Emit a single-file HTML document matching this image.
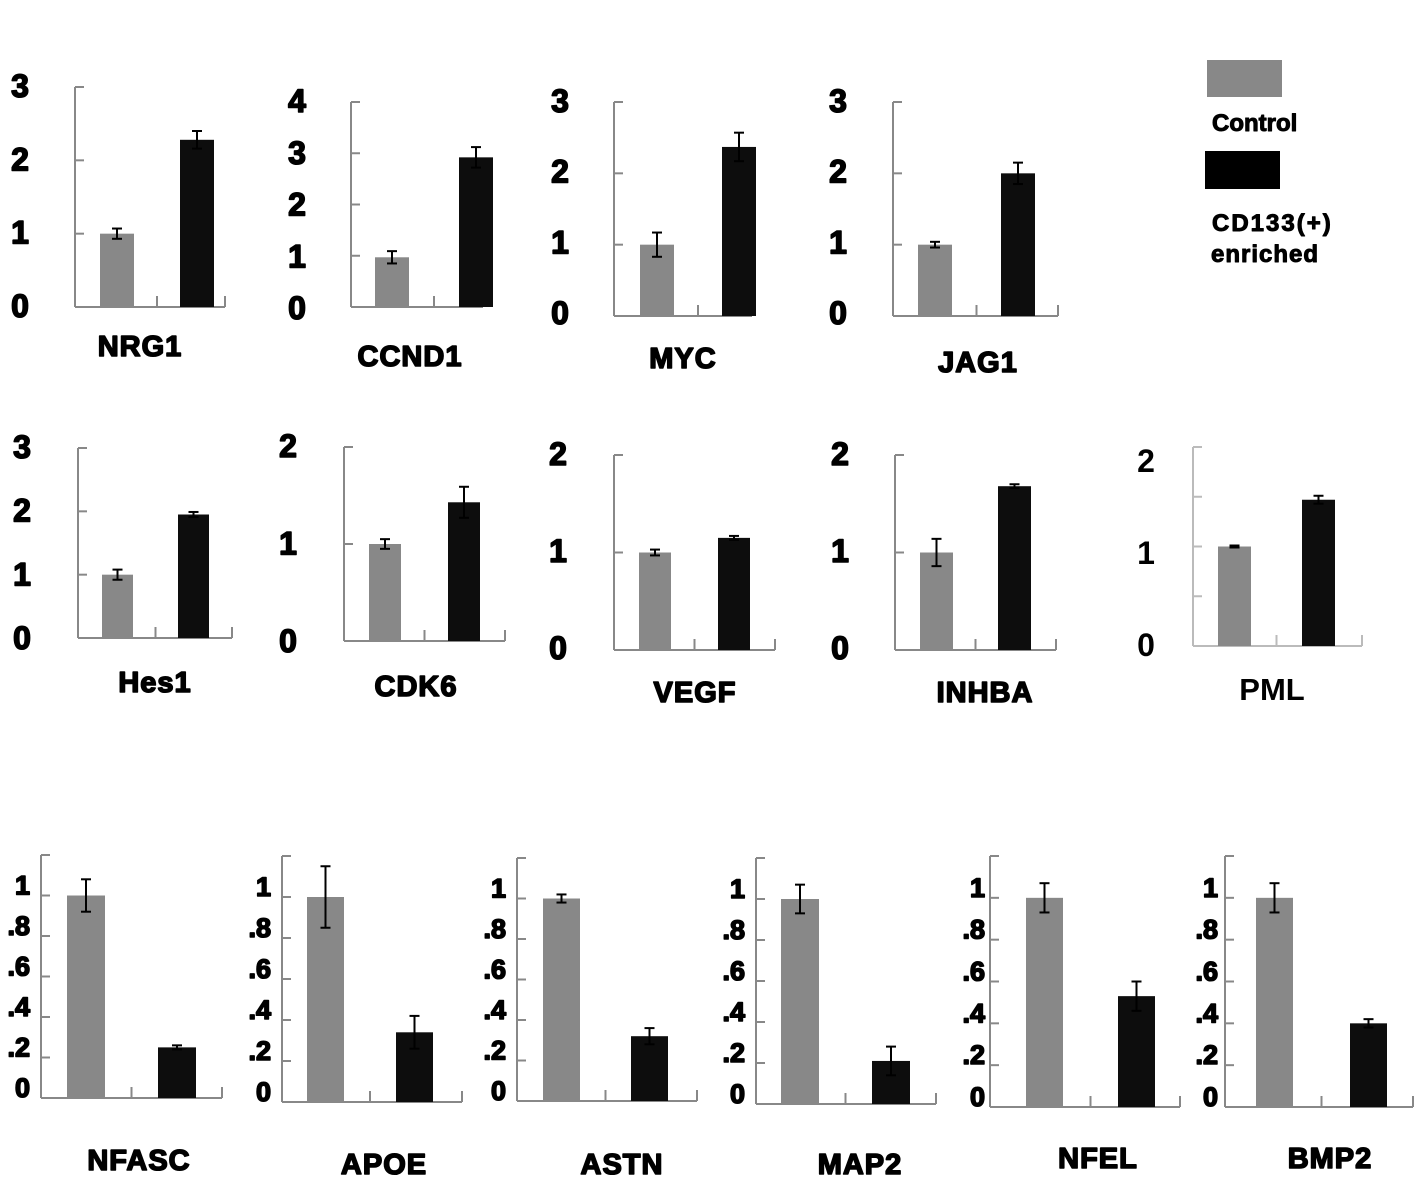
<!DOCTYPE html>
<html><head><meta charset="utf-8">
<style>
html,body{margin:0;padding:0;background:#fff;}
svg{display:block;}
text{font-family:"Liberation Sans",Arial,sans-serif;font-weight:bold;fill:#000;}
.heavy{stroke:#000;stroke-width:1.6px;stroke-linejoin:round;}
</style></head>
<body>
<svg id="fig" width="1417" height="1178" viewBox="0 0 1417 1178" xmlns="http://www.w3.org/2000/svg">
  <g>
    <rect x="1207" y="60" width="75" height="37" fill="#888"/>
    <text class="heavy" x="1212" y="131" font-size="24" style="stroke-width:1px">Control</text>
    <rect x="1205" y="151" width="75" height="38" fill="#000"/>
    <text class="heavy" x="1212" y="231" font-size="24" letter-spacing="2" style="stroke-width:1px">CD133(+)</text>
    <text class="heavy" x="1211" y="262" font-size="24" letter-spacing="1" style="stroke-width:1px">enriched</text>
  </g>
</svg>
<script>
// ---- data ----
const genes = ["NRG1","CCND1","MYC","JAG1","Hes1","CDK6","VEGF","INHBA","PML","NFASC","APOE","ASTN","MAP2","NFEL","BMP2"];
const controlVals = [1.0,0.97,1.0,1.0,1.0,1.0,1.0,1.0,1.0,1.0,1.0,1.0,1.0,1.0,1.0];
const controlErr  = [0.07,0.12,0.17,0.04,0.08,0.05,0.03,0.14,0.01,0.08,0.15,0.02,0.07,0.07,0.07];
const enrichedVals = [2.28,2.92,2.37,2.0,1.95,1.43,1.15,1.68,1.47,0.25,0.34,0.32,0.21,0.53,0.40];
const enrichedErr  = [0.12,0.2,0.2,0.15,0.04,0.16,0.02,0.02,0.04,0.01,0.08,0.04,0.07,0.07,0.02];
const yMax = [3,4,3,3,3,2,2,2,2,1.2,1.2,1.2,1.2,1.2,1.2];
const tickLabels3 = ["0","1","2","3"];
const tickLabels4 = ["0","1","2","3","4"];
const tickLabels2 = ["0","1","2"];
const tickLabelsSmall = ["0",".2",".4",".6",".8","1"];
const tickValues3 = [0,1,2,3];
const tickValues4 = [0,1,2,3,4];
const tickValues2 = [0,1,2];
const tickValuesSmall = [0,0.2,0.4,0.6,0.8,1.0];

// ---- layout (pixels) ----
const layout = [
 {ax:75, top:87, bot:307, right:225, gx:100, bx:180, bw:34, lx:20, ly:305, tx:140, ty:356, row:1},
 {ax:351,top:102,bot:307, right:483, gx:375, bx:459, bw:34, lx:297, ly:307, tx:410, ty:366, row:1},
 {ax:614,top:102,bot:316, right:752, gx:640, bx:722, bw:34, lx:560, ly:312, tx:683, ty:368, row:1},
 {ax:893,top:102,bot:316, right:1058,gx:918, bx:1001,bw:34, lx:838, ly:312, tx:978, ty:372, row:1},
 {ax:78, top:448,bot:638, right:232, gx:102, bx:178, bw:31, lx:22, ly:637, tx:155, ty:692, row:2},
 {ax:344,top:447,bot:641, right:505, gx:369, bx:448, bw:32, lx:288, ly:640, tx:416, ty:696, row:2},
 {ax:614,top:455,bot:650, right:775, gx:639, bx:718, bw:32, lx:558, ly:647, tx:695, ty:702, row:2},
 {ax:895,top:455,bot:650, right:1056,gx:920, bx:998, bw:33, lx:840, ly:647, tx:985, ty:702, row:2},
 {ax:1193,top:447,bot:646,right:1362,gx:1218,bx:1302,bw:33, lx:1146,ly:644, tx:1272,ty:700, row:2, light:true, sparse:true},
 {ax:41, top:855,bot:1098,right:222, gx:67, bx:158, bw:38, lx:30, tx:139, ty:1170, row:3},
 {ax:282,top:856,bot:1102,right:462, gx:307, bx:396, bw:37, lx:271, tx:384, ty:1174, row:3},
 {ax:517,top:858,bot:1101,right:697, gx:543, bx:631, bw:37, lx:506, tx:622, ty:1174, row:3},
 {ax:756,top:858,bot:1104,right:936, gx:781, bx:872, bw:38, lx:745, tx:860, ty:1174, row:3},
 {ax:990,top:856,bot:1107,right:1180,gx:1026,bx:1118,bw:37, lx:985, tx:1098,ty:1168, row:3},
 {ax:1225,top:856,bot:1107,right:1413,gx:1256,bx:1350,bw:37, lx:1218,tx:1330,ty:1168, row:3}
];

const NS = "http://www.w3.org/2000/svg";
const svg = document.getElementById("fig");
function mk(tag, attrs, parent){
  const e = document.createElementNS(NS, tag);
  for (const k in attrs) e.setAttribute(k, attrs[k]);
  parent.appendChild(e);
  return e;
}
function ticksFor(i){
  if (yMax[i] === 4) return [tickValues4, tickLabels4];
  if (yMax[i] === 3) return [tickValues3, tickLabels3];
  if (yMax[i] === 2) return [tickValues2, tickLabels2];
  return [tickValuesSmall, tickLabelsSmall];
}

genes.forEach((g, i) => {
  const L = layout[i];
  const y = v => L.bot - (v / yMax[i]) * (L.bot - L.top);
  const axisCol = L.light ? "#bbb" : "#888";
  const grp = mk("g", {}, svg);
  
  

  const yAxis = mk("line", {x1:L.ax, y1:L.top, x2:L.ax, y2:L.bot, stroke:axisCol, "stroke-width":2}, grp);
  
  
  const xAxis = mk("line", {x1:L.ax, y1:L.bot, x2:L.right, y2:L.bot, stroke:axisCol, "stroke-width":2}, grp);
  
  
  const mid = (L.gx + L.bw + L.bx) / 2;
  mk("line", {x1:mid, y1:L.bot, x2:mid, y2:L.bot-11, stroke:axisCol, "stroke-width":2}, grp);
  mk("line", {x1:L.right, y1:L.bot, x2:L.right, y2:L.bot-11, stroke:axisCol, "stroke-width":2}, grp);

  const [tv, tl] = ticksFor(i);
  const step = yMax[i] === 1.2 ? 0.2 : (L.sparse ? 0.5 : 1);
  for (let v = step; v <= yMax[i] + 1e-6; v += step) {
    mk("line", {x1:L.ax, y1:y(v), x2:L.ax+9, y2:y(v), stroke:axisCol, "stroke-width":2}, grp);
  }
  tv.forEach((v, k) => {
    let t;
    if (L.row === 3) {
      t = mk("text", {x:L.lx, y:y(v) - 1, "font-size":27, "text-anchor":"end", "class":"heavy"}, grp);
    } else {
      let ty;
      if (L.sparse) ty = L.ly - (v / yMax[i]) * (L.ly - 460) + 12;
      else ty = L.ly - (v / yMax[i]) * (L.ly - (L.top - 2)) + 12;
      t = mk("text", {x:L.lx, y:ty, "font-size":32, "text-anchor":"middle", "class": L.sparse ? "" : "heavy"}, grp);
    }
    t.textContent = tl[k];
    
    
  });

  const gb = mk("rect", {x:L.gx, y:y(controlVals[i]), width:L.bw, height:L.bot - y(controlVals[i]), fill:"#888"}, grp);
  
  
  const bb = mk("rect", {x:L.bx, y:y(enrichedVals[i]), width:L.bw, height:L.bot - y(enrichedVals[i]), fill:"#0d0d0d"}, grp);
  
  

  [[L.gx, controlVals[i], controlErr[i]], [L.bx, enrichedVals[i], enrichedErr[i]]].forEach(([bx, v, e], k) => {
    const cx = bx + L.bw / 2;
    const eg = mk("g", {stroke:"#000", "stroke-width":2}, grp);
    
    
    mk("line", {x1:cx, y1:y(v+e), x2:cx, y2:y(v-e)}, eg);
    mk("line", {x1:cx-5, y1:y(v+e), x2:cx+5, y2:y(v+e)}, eg);
    mk("line", {x1:cx-5, y1:y(v-e), x2:cx+5, y2:y(v-e)}, eg);
  });

  const tt = mk("text", {x:L.tx, y:L.ty, "font-size": L.sparse ? 31 : 29, "text-anchor":"middle", "class": L.sparse ? "" : "heavy", "letter-spacing": L.sparse ? 0 : 1}, grp);
  tt.textContent = g;
  
  
});
</script>
</body></html>
